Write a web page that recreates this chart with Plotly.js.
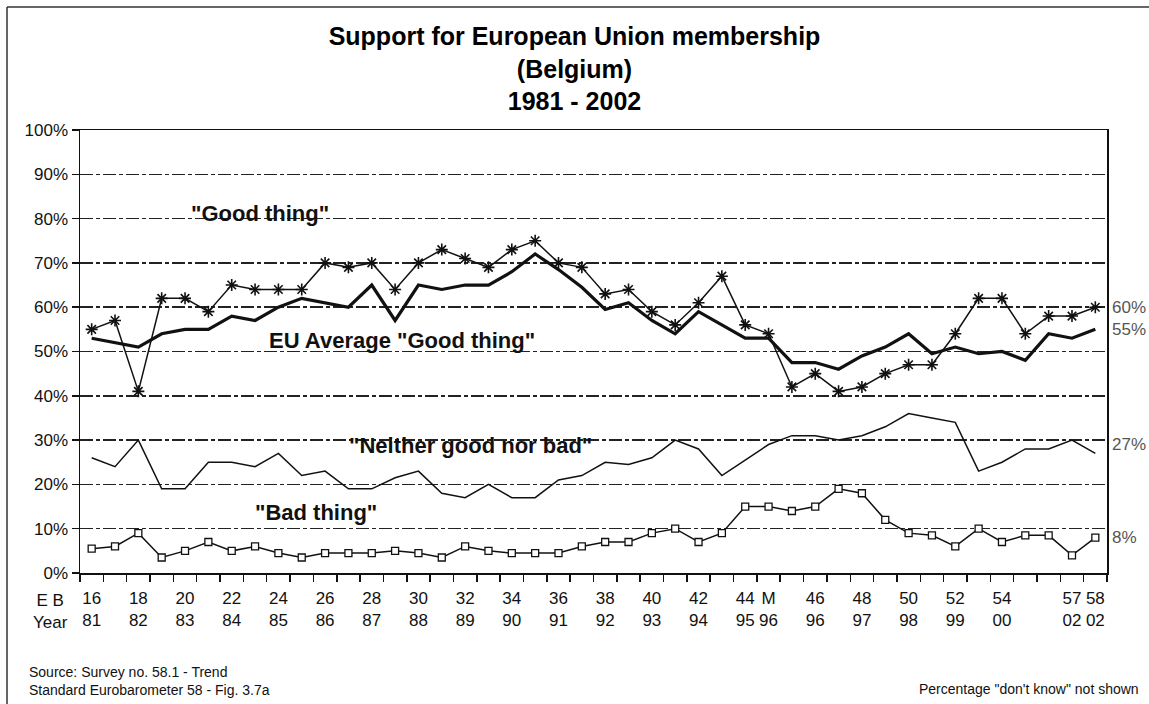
<!DOCTYPE html>
<html>
<head>
<meta charset="utf-8">
<script src="https://cdn.plot.ly/plotly-3.0.1.min.js"></script>
<style>
  html, body { margin: 0; padding: 0; background: #fff; }
  #chart { width: 1149px; height: 704px; }
</style>
</head>
<body>
<div id="chart"></div>
<script>
// ---- Data ----
const categories = ["16","17","18","19","20","21","22","23","24","25","26","27","28","29","30","31","32","33","34","35","36","37","38","39","40","41","42","43","44","M","45","46","47","48","49","50","51","52","53","54","55","56","57","58"];
const ebLabels = ["16","","18","","20","","22","","24","","26","","28","","30","","32","","34","","36","","38","","40","","42","","44","M","","46","","48","","50","","52","","54","","","57","58"];
const yearLabels = ["81","","82","","83","","84","","85","","86","","87","","88","","89","","90","","91","","92","","93","","94","","95","96","","96","","97","","98","","99","","00","","","02","02"];

const goodThing = [55,57,41,62,62,59,65,64,64,64,70,69,70,64,70,73,71,69,73,75,70,69,63,64,59,56,61,67,56,54,42,45,41,42,45,47,47,54,62,62,54,58,58,60];
const euAverage = [53,52,51,54,55,55,58,57,60,62,61,60,65,57,65,64,65,65,68,72,68.5,64.5,59.5,61,57,54,59,56,53,53,47.5,47.5,46,49,51,54,49.5,51,49.5,50,48,54,53,55];
const neither = [26,24,30,19,19,25,25,24,27,22,23,19,19,21.5,23,18,17,20,17,17,21,22,25,24.5,26,30,28,22,25.5,29,31,31,30,31,33,36,35,34,23,25,28,28,30,27];
const badThing = [5.5,6,9,3.5,5,7,5,6,4.5,3.5,4.5,4.5,4.5,5,4.5,3.5,6,5,4.5,4.5,4.5,6,7,7,9,10,7,9,15,15,14,15,19,18,12,9,8.5,6,10,7,8.5,8.5,4,8];

const yTickVals = [0,10,20,30,40,50,60,70,80,90,100];

// category positions on the axis (one slot per survey)
const xPos = categories.map((_, i) => i);
const tickText = ebLabels.map((e, i) => e === "" ? "" : e + "<br>" + yearLabels[i]);

// ---- Layout helpers (pixel -> paper) ----
const W = 1149, H = 704;
const M = {l: 80, r: 42, t: 130, b: 131};
const pw = W - M.l - M.r, ph = H - M.t - M.b;
const px = x => (x - M.l) / pw;
const py = y => (H - M.b - y) / ph;

const FONT = "Liberation Sans, Arial, sans-serif";
const ink = "#111";

const traces = [
  {x: xPos, y: goodThing, text: categories, type: "scatter", mode: "lines+markers", name: "Good thing",
   line: {color: ink, width: 1.5},
   marker: {symbol: "asterisk-open", size: 10, color: ink, line: {color: ink, width: 1.6}}},
  {x: xPos, y: euAverage, text: categories, type: "scatter", mode: "lines", name: "EU Average Good thing",
   line: {color: ink, width: 3.2}},
  {x: xPos, y: neither, text: categories, type: "scatter", mode: "lines", name: "Neither good nor bad",
   line: {color: ink, width: 1.5}},
  {x: xPos, y: badThing, text: categories, type: "scatter", mode: "lines+markers", name: "Bad thing",
   line: {color: ink, width: 1.5},
   marker: {symbol: "square", size: 7, color: "#fff", line: {color: ink, width: 1.3}}}
];

const last = arr => arr[arr.length - 1];

const boldLabel = (text, x, y) => ({
  text: text, xref: "paper", yref: "paper", x: px(x), y: py(y),
  xanchor: "center", yanchor: "middle", showarrow: false,
  font: {family: FONT, size: 22, weight: "bold", color: ink}
});
const endLabel = (arr, shift) => ({
  text: last(arr) + "%", xref: "paper", yref: "y", x: 1, y: last(arr),
  xanchor: "left", yanchor: "middle", xshift: 3, yshift: shift || 0, showarrow: false,
  font: {family: FONT, size: 17, color: "#555"}
});

const layout = {
  width: W, height: H,
  margin: M,
  paper_bgcolor: "#fff", plot_bgcolor: "#fff",
  showlegend: false,
  font: {family: FONT, color: ink, size: 17},
  title: {
    text: "Support for European Union membership<br>(Belgium)<br>1981 - 2002",
    font: {family: FONT, size: 25, weight: "bold", color: "#000"},
    x: 0.5, xref: "container", xanchor: "center",
    y: 1 - 45 / H, yref: "container", yanchor: "top"
  },
  xaxis: {
    type: "linear",
    range: [-0.5, categories.length - 0.5],
    tickmode: "array", tickvals: xPos, ticktext: tickText,
    ticks: "", ticklabelstandoff: 9,
    minor: {tickmode: "linear", tick0: -0.5, dtick: 1, ticks: "outside", ticklen: 7,
            tickwidth: 1.5, tickcolor: ink, showgrid: false},
    showline: true, linecolor: ink, linewidth: 1.5, mirror: true,
    showgrid: false, zeroline: false,
    tickfont: {family: FONT, size: 17, color: ink},
    tickangle: 0
  },
  yaxis: {
    range: [0, 100], tickmode: "array", tickvals: yTickVals,
    ticktext: yTickVals.map(v => v + "%"),
    ticks: "outside", ticklen: 7, tickwidth: 1.5, tickcolor: ink,
    showline: true, linecolor: ink, linewidth: 1.5, mirror: true,
    showgrid: true, gridcolor: "#222", gridwidth: 1.5, griddash: "13px,3px,4px,3px",
    zeroline: false,
    tickfont: {family: FONT, size: 17, color: ink}
  },
  shapes: [
    {type: "line", xref: "paper", yref: "paper", x0: px(7), x1: px(W + 5), y0: py(7), y1: py(7), line: {color: "#333", width: 1.5}},
    {type: "line", xref: "paper", yref: "paper", x0: px(7), x1: px(7), y0: py(7), y1: py(H + 5), line: {color: "#333", width: 1.5}}
  ],
  annotations: [
    boldLabel("\"Good thing\"", 260, 213),
    boldLabel("EU Average \"Good thing\"", 402, 340),
    boldLabel("\"Neither good nor bad\"", 470, 445),
    boldLabel("\"Bad thing\"", 316, 512),
    endLabel(goodThing),
    endLabel(euAverage),
    endLabel(neither, 9),
    endLabel(badThing),
    {text: "E B<br>Year", xref: "paper", yref: "paper", x: px(50), y: py(611),
     xanchor: "center", yanchor: "middle", showarrow: false,
     font: {family: FONT, size: 17, color: ink}},
    {text: "Source: Survey no. 58.1 - Trend<br>Standard Eurobarometer 58 - Fig. 3.7a", xref: "paper", yref: "paper",
     x: px(27), y: py(680.5), xanchor: "left", yanchor: "middle", align: "left", showarrow: false,
     font: {family: FONT, size: 14, color: ink}},
    {text: "Percentage \"don't know\" not shown", xref: "paper", yref: "paper",
     x: px(1141), y: py(689), xanchor: "right", yanchor: "middle", showarrow: false,
     font: {family: FONT, size: 14, color: ink}}
  ]
};

Plotly.newPlot("chart", traces, layout, {displayModeBar: false, staticPlot: true});
</script>
</body>
</html>
